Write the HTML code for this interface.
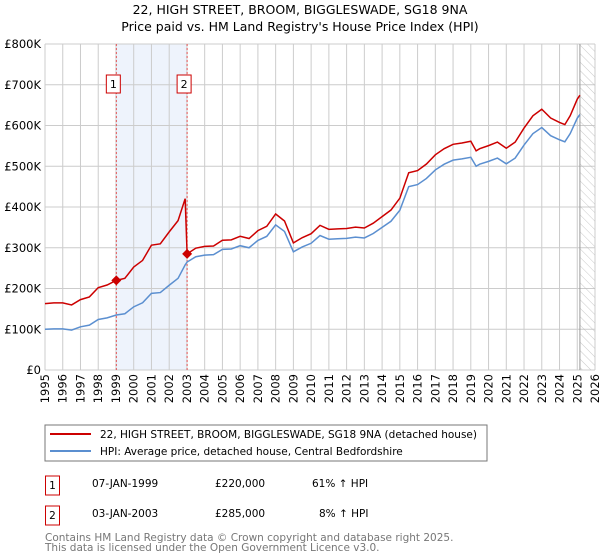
<!DOCTYPE html>
<html><head><meta charset="utf-8"><style>
body{margin:0;background:#fff;width:600px;height:560px;overflow:hidden;font-family:"DejaVu Sans","Liberation Sans",sans-serif;}
svg{display:block}
</style></head><body>
<svg id="chart" width="600" height="560" font-family="DejaVu Sans, Liberation Sans, sans-serif">
<defs><pattern id="hatch" width="6" height="6" patternUnits="userSpaceOnUse" patternTransform="rotate(-45)"><line x1="0" y1="0" x2="0" y2="6" stroke="#bbb" stroke-width="0.8"/></pattern></defs>
<text x="300" y="14" text-anchor="middle" font-size="12.5">22, HIGH STREET, BROOM, BIGGLESWADE, SG18 9NA</text>
<text x="300" y="31" text-anchor="middle" font-size="12.5">Price paid vs. HM Land Registry's House Price Index (HPI)</text>
<g id="plot"></g>
<rect x="45" y="425" width="442" height="36" fill="#fff" stroke="#777"/>
<line x1="50" y1="434" x2="91" y2="434" stroke="#cc0000" stroke-width="2"/>
<text x="100" y="438" font-size="10.5">22, HIGH STREET, BROOM, BIGGLESWADE, SG18 9NA (detached house)</text>
<line x1="50" y1="451" x2="91" y2="451" stroke="#5b8fd0" stroke-width="2"/>
<text x="100" y="455" font-size="10.5">HPI: Average price, detached house, Central Bedfordshire</text>
<g font-size="10.5">
<rect x="45.5" y="476" width="14" height="19" fill="#fff" stroke="#cc0000"/><text x="52.5" y="489" text-anchor="middle">1</text>
<text x="92" y="487">07-JAN-1999</text><text x="215" y="487">£220,000</text><text x="312" y="487">61% ↑ HPI</text>
<rect x="45.5" y="506" width="14" height="19" fill="#fff" stroke="#cc0000"/><text x="52.5" y="519" text-anchor="middle">2</text>
<text x="92" y="517">03-JAN-2003</text><text x="215" y="517">£285,000</text><text x="319" y="517">8% ↑ HPI</text>
</g>
<text x="45" y="541" font-size="10.5" fill="#777">Contains HM Land Registry data © Crown copyright and database right 2025.</text>
<text x="45" y="551" font-size="10.5" fill="#777">This data is licensed under the Open Government Licence v3.0.</text>
</svg>
<script>
const hpiYears=[1995,1995.5,1996,1996.5,1997,1997.5,1998,1998.5,1999.02,1999.5,2000,2000.5,2001,2001.5,2002,2002.5,2002.9,2003.01,2003.5,2004,2004.5,2005,2005.5,2006,2006.5,2007,2007.5,2008,2008.5,2009,2009.5,2010,2010.5,2011,2011.5,2012,2012.5,2013,2013.5,2014,2014.5,2015,2015.5,2016,2016.5,2017,2017.5,2018,2018.5,2019,2019.3,2019.5,2020,2020.5,2021,2021.5,2022,2022.5,2023,2023.5,2024,2024.3,2024.6,2025,2025.15];
const hpiValues=[100,101,101,98,106,110,124,128,135,138,155,165,188,190,208,225,258,265,278,282,283,296,297,305,300,318,328,356,340,290,302,311,330,321,322,323,326,324,335,350,365,392,450,455,470,491,505,515,518,522,500,505,512,520,506,520,552,580,595,575,565,560,580,618,627];
const saleYears=[1999.02,2003.01];
const salePrices=[220,285];
const yTicks=[0,100,200,300,400,500,600,700,800];
const yTickLabels=["£0","£100K","£200K","£300K","£400K","£500K","£600K","£700K","£800K"];
const xTicks=[1995,1996,1997,1998,1999,2000,2001,2002,2003,2004,2005,2006,2007,2008,2009,2010,2011,2012,2013,2014,2015,2016,2017,2018,2019,2020,2021,2022,2023,2024,2025,2026];
const X0=45,X1=595,Y0=370,Y1=44;
const xs=v=>X0+(v-1995)/(2026-1995)*(X1-X0);
const ys=v=>Y0-v/800*(Y0-Y1);
const NS="http://www.w3.org/2000/svg";
const g=document.getElementById('plot');
function mk(t,a,p){const e=document.createElementNS(NS,t);for(const k in a)e.setAttribute(k,a[k]);(p||g).appendChild(e);return e;}
const sp=mk('rect',{x:xs(saleYears[0]),y:Y1,width:xs(saleYears[1])-xs(saleYears[0]),height:Y0-Y1,fill:'#eef3fc'});


xTicks.forEach((t,i)=>{const l=mk('line',{x1:xs(t),x2:xs(t),y1:Y1,y2:Y0,stroke:'#ccc','stroke-width':1});


const tx=mk('text',{x:0,y:0,'font-size':11.5,'text-anchor':'end',transform:`translate(${xs(t)+4},${Y0+4}) rotate(-90)`});
tx.textContent=t;

});
yTicks.forEach((t,i)=>{const l=mk('line',{x1:X0,x2:X1,y1:ys(t),y2:ys(t),stroke:'#ccc','stroke-width':1});


const tx=mk('text',{x:X0-4,y:ys(t)+4,'font-size':11.5,'text-anchor':'end'});
tx.textContent=yTickLabels[i];

});
const lastX=xs(hpiYears[hpiYears.length-1]);
const hz=mk('rect',{x:lastX,y:Y1,width:X1-lastX,height:Y0-Y1,fill:'url(#hatch)'});


mk('line',{x1:lastX,x2:lastX,y1:Y1,y2:Y0,stroke:'#999','stroke-width':1});
saleYears.forEach((s,i)=>{const l=mk('line',{x1:xs(s),x2:xs(s),y1:Y1,y2:Y0,stroke:'#e05050','stroke-dasharray':'2,2','stroke-width':1});


const b=mk('rect',{x:xs(s)-10,y:75,width:14,height:18,fill:'#fff',stroke:'#cc0000'});


const t=mk('text',{x:xs(s)-3,y:88,'font-size':11,'text-anchor':'middle'});t.textContent=i+1;

});
function hpiAt(y){for(let i=0;i<hpiYears.length-1;i++){if(y<=hpiYears[i+1]){const f=(y-hpiYears[i])/(hpiYears[i+1]-hpiYears[i]);return hpiValues[i]+f*(hpiValues[i+1]-hpiValues[i]);}}return hpiValues[hpiValues.length-1];}
const ratios=saleYears.map((s,i)=>salePrices[i]/hpiAt(s));
let red=[],blue=[];
hpiYears.forEach((yr,i)=>{blue.push(xs(yr)+','+ys(hpiValues[i]));
const r=yr<saleYears[1]?ratios[0]:ratios[1];red.push(xs(yr)+','+ys(hpiValues[i]*r));});
const bl=mk('polyline',{points:blue.join(' '),fill:'none',stroke:'#5b8fd0','stroke-width':1.5});


const rl=mk('polyline',{points:red.join(' '),fill:'none',stroke:'#cc0000','stroke-width':1.5});


saleYears.forEach((s,i)=>{const cx=xs(s),cy=ys(salePrices[i]);
const d=mk('polygon',{points:`${cx},${cy-5} ${cx+5},${cy} ${cx},${cy+5} ${cx-5},${cy}`,fill:'#cc0000'});

});
</script>
</body></html>
